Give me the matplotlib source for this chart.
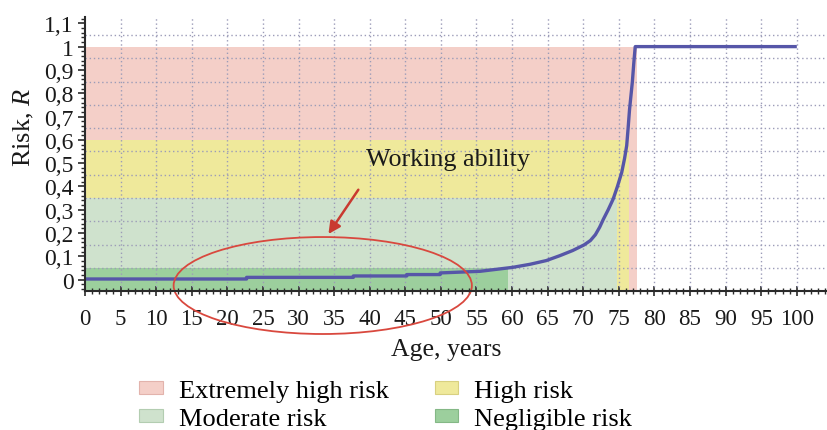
import matplotlib
matplotlib.use("Agg")
import matplotlib.pyplot as plt
from matplotlib.patches import Ellipse, Patch
from matplotlib.ticker import MultipleLocator, FixedLocator, FuncFormatter

plt.rcParams['font.family'] = ['Liberation Serif', 'DejaVu Serif']
plt.rcParams['mathtext.fontset'] = 'custom'
plt.rcParams['mathtext.it'] = 'Liberation Serif:italic'
plt.rcParams['mathtext.rm'] = 'Liberation Serif'

# ---- data ----
age = [0, 22.7, 22.7, 37.7, 37.7, 45.2, 45.2, 49.9, 49.9, 55.5, 60.1, 62.5, 64.8,
       66.7, 68.5, 70.1, 71.0, 71.7, 72.3, 72.8, 73.5, 74.2, 74.8, 75.4, 75.8, 76.1,
       76.3, 76.5, 76.7, 76.9, 77.1, 77.3, 100]
risk = [0.003, 0.003, 0.010, 0.010, 0.016, 0.016, 0.022, 0.022, 0.029, 0.036, 0.053, 0.066, 0.082,
        0.103, 0.125, 0.149, 0.168, 0.193, 0.225, 0.258, 0.300, 0.346, 0.400, 0.460, 0.520, 0.575,
        0.650, 0.730, 0.790, 0.850, 0.930, 1.0, 1.0]

zone_labels = ["Extremely high risk", "High risk", "Moderate risk", "Negligible risk"]
zone_top = [1.0, 0.6, 0.35, 0.05]
zone_age_end = [77.5, 76.4, 74.7, 59.4]
zone_colors = ["#f4cfc8", "#efe99b", "#cfe2cd", "#9ccf9d"]
zone_edges = ["#e2b3ac", "#d8d080", "#b3cdb1", "#84b886"]

x_ticks = list(range(0, 101, 5))
y_ticks = [0, 0.1, 0.2, 0.3, 0.4, 0.5, 0.6, 0.7, 0.8, 0.9, 1.0, 1.1]
y_grid = [0.05, 0.15, 0.25, 0.35, 0.45, 0.55, 0.65, 0.75, 0.85, 0.95, 1.05]

annotation_text = "Working ability"

# ---- figure ----
fig = plt.figure(figsize=(8.28, 4.31), dpi=100)
ax = fig.add_axes([85/828, 1-292/431, (826-85)/828, (292-18)/431])
ymin, ymax = -0.0485, 1.127
ax.set_xlim(0, 104.1)
ax.set_ylim(ymin, ymax)

for top, xend, col in zip(zone_top, zone_age_end, zone_colors):
    ax.bar(0, top - ymin, width=xend, bottom=ymin, align='edge',
           color=col, edgecolor='none', zorder=1)

grid_kw = dict(color='#9c9cb8', linewidth=1.0, linestyle=(0, (1, 2)), zorder=2)
ax.hlines(y_grid, 0, 104.1, **grid_kw)
ax.vlines(x_ticks[1:], ymin, ymax, **grid_kw)

ax.plot(age, risk, color='#5656a8', linewidth=2.4, zorder=4, solid_capstyle='butt')

# ellipse & arrow & text
ell = Ellipse((33.4, -0.025), 41.9, 0.416, fill=False, edgecolor='#d9483e',
              linewidth=1.3, clip_on=False, zorder=5)
ax.add_patch(ell)
ax.annotate("", xy=(34.2, 0.196), xytext=(38.4, 0.386),
            arrowprops=dict(arrowstyle='-|>', color='#c93a30', lw=1.8,
                            mutation_scale=18, shrinkA=0, shrinkB=0), zorder=6)
ax.text(51, 0.518, annotation_text, ha='center', va='center', fontsize=18.8, color='#1a1a1a', zorder=6)

# axes styling
for s in ['top', 'right']:
    ax.spines[s].set_visible(False)
for s in ['left', 'bottom']:
    ax.spines[s].set_linewidth(1.5)
    ax.spines[s].set_color('#2a2a2a')
    ax.spines[s].set_zorder(7)

ax.xaxis.set_major_locator(FixedLocator(x_ticks))
ax.xaxis.set_minor_locator(MultipleLocator(1))
ax.yaxis.set_major_locator(FixedLocator(y_ticks))
ax.yaxis.set_minor_locator(MultipleLocator(0.02))

def yfmt(v, pos):
    s = ('%.1f' % v)
    if s.endswith('.0'):
        s = s[:-2]
    return s.replace('.', ',')
ax.yaxis.set_major_formatter(FuncFormatter(yfmt))

ax.tick_params(axis='x', which='major', direction='inout', length=7, width=1.2,
               labelsize=16.5, pad=9, colors='#2a2a2a', labelcolor='#1a1a1a')
ax.tick_params(axis='x', which='minor', direction='inout', length=5, width=1.0, colors='#2a2a2a')
ax.tick_params(axis='y', which='major', direction='out', length=5, width=1.2,
               labelsize=17, pad=3, colors='#2a2a2a', labelcolor='#1a1a1a')
ax.tick_params(axis='y', which='minor', direction='out', length=3, width=1.0, colors='#2a2a2a')

ax.set_xlabel("Age, years", fontsize=18.5, color='#1a1a1a')
ax.xaxis.set_label_coords(0.487, -0.17)
ax.set_ylabel("Risk, $\\mathit{R}$", fontsize=19, color='#1a1a1a')
ax.yaxis.set_label_coords(-0.066, 0.60)

handles = [Patch(facecolor=c, edgecolor=e, linewidth=0.8) for c, e in zip(zone_colors, zone_edges)]
order = [0, 2, 1, 3]
fig.legend([handles[i] for i in order], [zone_labels[i] for i in order],
           loc='upper left', bbox_to_anchor=(139/828, 1 - 381/431), ncol=2,
           frameon=False, fontsize=19, handlelength=0.9, handleheight=0.36,
           handletextpad=0.6, columnspacing=1.75, labelspacing=0.22, borderpad=0,
           borderaxespad=0)

fig.savefig("out.png", dpi=100)
